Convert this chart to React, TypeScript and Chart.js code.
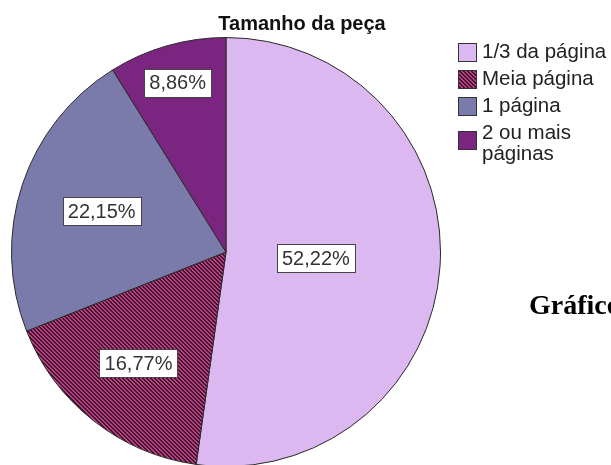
import React, { useEffect, useRef } from 'react';
import { Chart, registerables } from 'chart.js';

Chart.register(...registerables);

const TITLE = 'Tamanho da peça';
const categories = ['1/3 da página', 'Meia página', '1 página', '2 ou mais páginas'];
const legendLines = [['1/3 da página'], ['Meia página'], ['1 página'], ['2 ou mais', 'páginas']];
const percentages = [52.22, 16.77, 22.15, 8.86];
const SIDE_TEXT = 'Gráfico';

const COLORS = ['#dcb8f0', null, '#7b7bab', '#7a2680'];
const HATCH_BASE = '#c03f80';
const HATCH_LINE = '#3a1630';
const LABEL_RADIUS = [0.42, 0.66, 0.61, 0.82];
const FONT = '"Liberation Sans", Arial, sans-serif';

const fmt = (v: number) => v.toFixed(2).replace('.', ',') + '%';

function makeHatch(): CanvasPattern | string {
  const c = document.createElement('canvas');
  c.width = 4;
  c.height = 4;
  const g = c.getContext('2d');
  if (!g) return HATCH_BASE;
  g.fillStyle = HATCH_BASE;
  g.fillRect(0, 0, 4, 4);
  g.fillStyle = HATCH_LINE;
  for (let y = 0; y < 4; y++) {
    for (let x = 0; x < 4; x++) {
      if (((x - y) % 4 + 4) % 4 < 2) g.fillRect(x, y, 1, 1);
    }
  }
  const p = g.createPattern(c, 'repeat');
  return p || HATCH_BASE;
}

const overlay = {
  id: 'overlay',
  afterDatasetsDraw(chart: any) {
    const ctx: CanvasRenderingContext2D = chart.ctx;
    const meta = chart.getDatasetMeta(0);
    const bg = chart.data.datasets[0].backgroundColor as any[];
    ctx.save();
    // value labels
    ctx.font = `20px ${FONT}`;
    meta.data.forEach((arc: any, i: number) => {
      const { x, y, startAngle, endAngle, outerRadius } = arc.getProps(
        ['x', 'y', 'startAngle', 'endAngle', 'outerRadius'],
        true
      );
      const mid = (startAngle + endAngle) / 2;
      const r = outerRadius * LABEL_RADIUS[i];
      const lx = x + Math.cos(mid) * r;
      const ly = y + Math.sin(mid) * r;
      const text = fmt(percentages[i]);
      const w = Math.round(ctx.measureText(text).width + 10);
      const h = 28;
      const bx = Math.round(lx - w / 2) + 0.5;
      const by = Math.round(ly - h / 2) + 0.5;
      ctx.fillStyle = '#ffffff';
      ctx.fillRect(bx, by, w, h);
      ctx.strokeStyle = '#444444';
      ctx.lineWidth = 1;
      ctx.strokeRect(bx, by, w, h);
      ctx.fillStyle = '#333333';
      ctx.textAlign = 'center';
      ctx.textBaseline = 'middle';
      ctx.fillText(text, lx, ly + 1);
    });

    // title
    ctx.font = `bold 20px ${FONT}`;
    ctx.fillStyle = '#111111';
    ctx.textAlign = 'center';
    ctx.textBaseline = 'alphabetic';
    ctx.fillText(TITLE, 302, 30);

    // legend
    const sq = 19;
    const sx = 458;
    const squareTops = [43, 70, 97, 131];
    const baselines = [[58], [85], [112], [139, 160]];
    ctx.font = `20.5px ${FONT}`;
    ctx.textAlign = 'left';
    categories.forEach((_c, i) => {
      ctx.fillStyle = bg[i];
      ctx.fillRect(sx, squareTops[i], sq, sq);
      ctx.strokeStyle = '#333333';
      ctx.lineWidth = 1;
      ctx.strokeRect(sx + 0.5, squareTops[i] + 0.5, sq - 1, sq - 1);
      ctx.fillStyle = '#222222';
      legendLines[i].forEach((line, j) => {
        ctx.fillText(line, 482, baselines[i][j]);
      });
    });
    ctx.restore();
  },
};

export default function App() {
  const ref = useRef<HTMLCanvasElement>(null);
  useEffect(() => {
    if (!ref.current) return;
    const hatch = makeHatch();
    const bg = COLORS.map((c) => (c === null ? hatch : c));
    const chart = new Chart(ref.current, {
      type: 'pie',
      data: {
        labels: categories,
        datasets: [
          {
            data: percentages,
            backgroundColor: bg as any,
            borderColor: '#2a2a2a',
            borderWidth: 1,
            hoverOffset: 0,
          },
        ],
      },
      plugins: [overlay],
      options: {
        responsive: false,
        animation: false,
        devicePixelRatio: 1,
        layout: { padding: { left: 11, right: 170, top: 37, bottom: 13 } },
        plugins: {
          legend: { display: false },
          title: { display: false },
          tooltip: { enabled: false },
        },
        events: [],
      },
    });
    return () => chart.destroy();
  }, []);

  return (
    <div
      style={{
        position: 'absolute',
        left: 0,
        top: 0,
        width: 611,
        height: 465,
        overflow: 'hidden',
        background: '#ffffff',
      }}
    >
      <canvas ref={ref} width={611} height={480} style={{ display: 'block' }} />
      <div
        style={{
          position: 'absolute',
          left: 529,
          top: 292,
          font: 'bold 28px "Liberation Serif", "Times New Roman", serif',
          lineHeight: '26px',
          whiteSpace: 'nowrap',
          color: '#000',
        }}
      >
        {SIDE_TEXT}
      </div>
    </div>
  );
}
